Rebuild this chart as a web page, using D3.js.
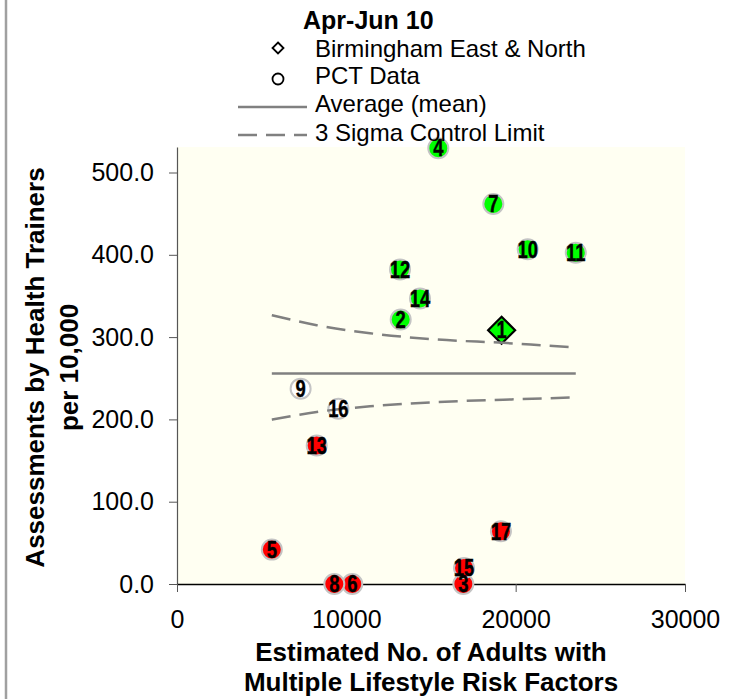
<!DOCTYPE html>
<html>
<head>
<meta charset="utf-8">
<script src="https://cdn.jsdelivr.net/npm/d3@7"></script>
<style>
  html, body { margin: 0; padding: 0; background: #ffffff; }
  svg { display: block; font-family: "Liberation Sans", Arial, sans-serif; }
</style>
</head>
<body>
<svg id="chart" width="738" height="699"></svg>
<script>
// PCT identifiers
const pctIds = [1, 2, 3, 4, 5, 6, 7, 8, 9, 10, 11, 12, 13, 14, 15, 16, 17];
// Estimated number of adults with multiple lifestyle risk factors
const adults = [19170, 13210, 16910, 15430, 5600, 10350, 18680, 9290, 7300, 20710, 23550, 13170, 8250, 14350, 16950, 9530, 19130];
// Assessments by health trainers per 10,000
const rates = [308.4, 321.4, 0.0, 529.6, 41.8, 0.0, 461.8, 0.0, 237.4, 406.7, 402.6, 382.3, 168.4, 347.0, 19.5, 213.0, 64.0];
// Position against the control limits
const status = ["high", "high", "low", "high", "low", "low", "high", "low", "mid", "high", "high", "high", "low", "high", "low", "mid", "low"];
// The highlighted PCT
const highlightId = 1;

// Average and 3-sigma control limits
const meanRate = 255.7;
const limitX = [5600, 8250, 11400, 15340, 19270, 23210, 23550];
const upperLimit = [326.7, 314.5, 304.7, 297.1, 293.0, 288.0, 287.7];
const lowerLimit = [199.7, 209.0, 215.9, 221.1, 224.0, 226.5, 226.7];

// Axis ticks
const xTicks = [0, 10000, 20000, 30000];
const yTicks = [0, 100, 200, 300, 400, 500];

const legendTitle = "Apr-Jun 10";
const legendLabels = ["Birmingham East & North", "PCT Data", "Average (mean)", "3 Sigma Control Limit"];

const svg = d3.select("#chart");
const plot = { left: 177, right: 685, top: 147, bottom: 584 };

const x = d3.scaleLinear().domain([0, 30000]).range([plot.left, plot.right]);
const y = d3.scaleLinear().domain([0, 531]).range([plot.bottom, plot.top]);

const fillFor = { high: "#00ff00", low: "#ff0000", mid: "#ffffff" };
const font = "\"Liberation Sans\", Arial, sans-serif";
const dash = "19,9";

// Chart border on the left edge
svg.append("line")
  .attr("x1", 6).attr("x2", 6).attr("y1", 0).attr("y2", 699)
  .attr("stroke", "#a0a0a0").attr("stroke-width", 2.5);

// Plot background
svg.append("rect")
  .attr("x", plot.left).attr("y", plot.top)
  .attr("width", plot.right - plot.left).attr("height", plot.bottom - plot.top)
  .attr("fill", "#fffff2");

// Axes
const yAxis = d3.axisLeft(y).tickValues(yTicks).tickFormat(d3.format(".1f")).tickSize(8).tickPadding(15).tickSizeOuter(0);
const xAxis = d3.axisBottom(x).tickValues(xTicks).tickFormat(d3.format("d")).tickSize(8).tickPadding(18).tickSizeOuter(0);

const gy = svg.append("g").attr("transform", `translate(${plot.left},0)`).call(yAxis);
gy.select(".domain").attr("stroke", "#555555").attr("stroke-width", 1.2);
gy.selectAll(".tick line").attr("stroke", "#555555");
gy.selectAll("text").attr("font-size", 25).attr("font-family", font).attr("fill", "#000");

const gx = svg.append("g").attr("transform", `translate(0,${plot.bottom})`).call(xAxis);
gx.select(".domain").attr("stroke", "#000").attr("stroke-width", 1.5);
gx.selectAll(".tick line").attr("stroke", "#555555");
gx.selectAll("text").attr("font-size", 25).attr("font-family", font).attr("fill", "#000");

// Axis titles
const yTitle = svg.append("text")
  .attr("transform", `translate(0,${(plot.top + plot.bottom) / 2 + 2}) rotate(-90)`)
  .attr("text-anchor", "middle").attr("font-weight", "bold").attr("font-size", 26)
  .attr("font-family", font);
yTitle.append("tspan").attr("x", 0).attr("y", 44).text("Assessments by Health Trainers");
yTitle.append("tspan").attr("x", 0).attr("y", 78).text("per 10,000");

const xTitle = svg.append("text")
  .attr("text-anchor", "middle").attr("font-weight", "bold").attr("font-size", 26)
  .attr("font-family", font);
const xMid = (plot.left + plot.right) / 2;
xTitle.append("tspan").attr("x", xMid).attr("y", 661).text("Estimated No. of Adults with");
xTitle.append("tspan").attr("x", xMid).attr("y", 691).text("Multiple Lifestyle Risk Factors");

// Data points
const points = pctIds.map((id, i) => ({ id, ax: adults[i], rate: rates[i], status: status[i] }));

const markers = svg.append("g");
points.forEach(p => {
  const cx = x(p.ax), cy = y(p.rate);
  if (p.id === highlightId) {
    markers.append("path")
      .attr("d", d3.symbol().type(d3.symbolDiamond2).size(465)())
      .attr("transform", `translate(${cx},${cy})`)
      .attr("fill", fillFor[p.status]).attr("stroke", "#000").attr("stroke-width", 2.2);
  } else {
    markers.append("circle")
      .attr("cx", cx).attr("cy", cy).attr("r", 10)
      .attr("fill", fillFor[p.status]).attr("stroke", "#c4c4c4").attr("stroke-width", 2);
  }
});

// Average and control limits
const line = d3.line().x(d => x(d[0])).y(d => y(d[1])).curve(d3.curveMonotoneX);
svg.append("path")
  .attr("d", line([[limitX[0], meanRate], [limitX[limitX.length - 1], meanRate]]))
  .attr("fill", "none").attr("stroke", "#808080").attr("stroke-width", 2.5);
[upperLimit, lowerLimit].forEach(lim => {
  svg.append("path")
    .attr("d", line(limitX.map((v, i) => [v, lim[i]])))
    .attr("fill", "none").attr("stroke", "#808080").attr("stroke-width", 2.5)
    .attr("stroke-dasharray", dash);
});

// Point labels
const labels = svg.append("g");
points.forEach(p => {
  const cx = x(p.ax), cy = y(p.rate);
  labels.append("text")
    .attr("transform", `translate(${cx},${cy + 8.3}) scale(0.8,1)`)
    .attr("text-anchor", "middle").attr("font-weight", "bold").attr("font-size", 23)
    .attr("font-family", font).attr("fill", "#000")
    .attr("stroke", "#000").attr("stroke-width", 0.4)
    .text(p.id);
});

// Legend
const lg = svg.append("g");
lg.append("text").attr("x", 303).attr("y", 29)
  .attr("font-weight", "bold").attr("font-size", 25).attr("font-family", font)
  .text(legendTitle);
const baseY = [57, 84, 112, 141];
lg.append("path")
  .attr("d", d3.symbol().type(d3.symbolDiamond2).size(77)())
  .attr("transform", `translate(278,48)`)
  .attr("fill", "#fff").attr("stroke", "#000").attr("stroke-width", 1.8);
lg.append("circle").attr("cx", 278).attr("cy", 79).attr("r", 5.5)
  .attr("fill", "#fff").attr("stroke", "#000").attr("stroke-width", 1.8);
lg.append("line").attr("x1", 238).attr("x2", 307).attr("y1", 107).attr("y2", 107)
  .attr("stroke", "#808080").attr("stroke-width", 2.5);
lg.append("line").attr("x1", 238).attr("x2", 307).attr("y1", 135).attr("y2", 135)
  .attr("stroke", "#808080").attr("stroke-width", 2.5).attr("stroke-dasharray", dash);
legendLabels.forEach((t, i) => {
  lg.append("text").attr("x", 315).attr("y", baseY[i])
    .attr("font-size", 24).attr("font-family", font).text(t);
});
</script>
</body>
</html>
